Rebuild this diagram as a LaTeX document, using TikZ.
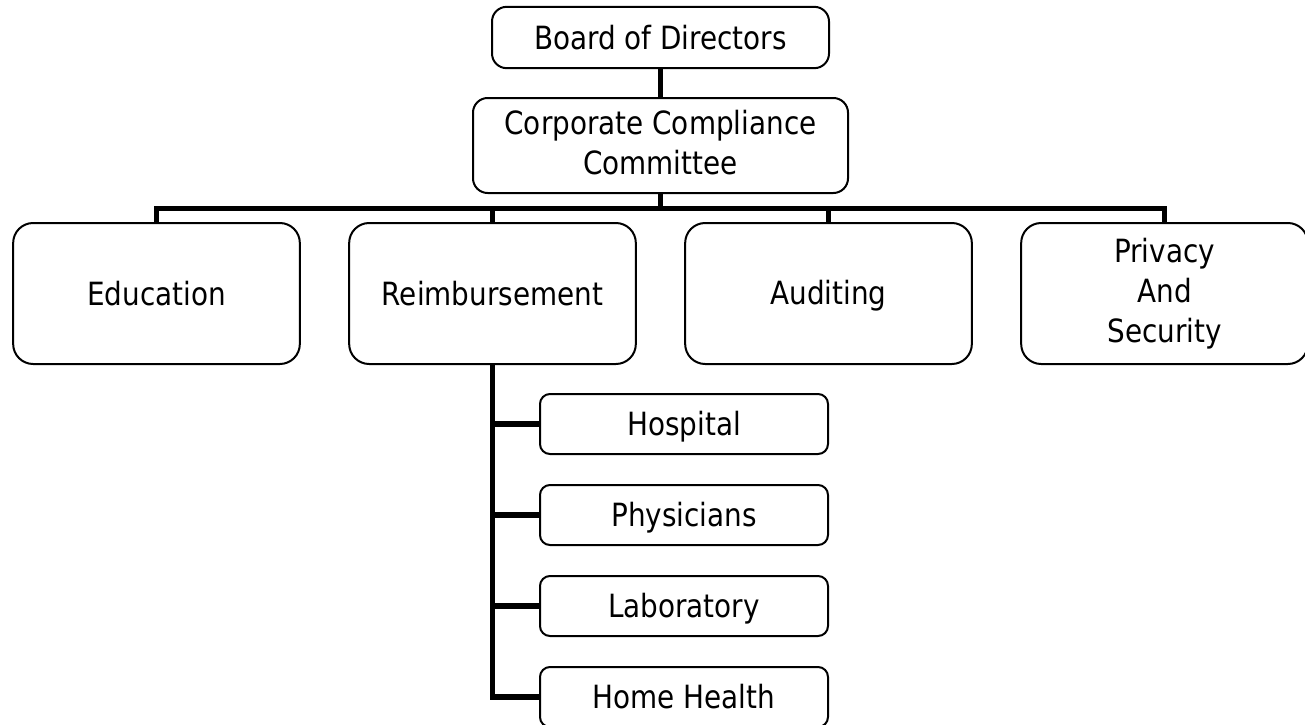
\documentclass[tikz,border=0pt]{standalone}
\usepackage{fontspec}
\setmainfont[FakeStretch=0.87]{DejaVu Sans}
\usepackage{tikz}
\usetikzlibrary{positioning}
\newcommand\boxstrut{\rule[-4.5pt]{0pt}{26.5pt}}

\begin{document}
\begin{tikzpicture}[
  x=0.75pt,y=-0.75pt,
  font=\fontsize{24}{30}\selectfont,
  box/.style={draw,line width=1.5pt,rounded corners=11pt,align=center,inner sep=2pt,minimum width=215pt,
    execute at begin node=\boxstrut,execute at end node=\boxstrut},
  head/.style={box,minimum height=46pt},
  dept/.style={box,rounded corners=15pt,minimum height=105.75pt},
  sub/.style={box,rounded corners=7.5pt,minimum width=216pt,minimum height=45pt},
  conn/.style={line width=4.4pt,line join=miter}]
\useasboundingbox (0,0) rectangle (1305,724);
\node[head,minimum width=252.75pt] (board) at (660.5,37.5) {Board of Directors};
\node[head,minimum width=281.25pt,minimum height=71.25pt] (ccc) at (660.5,145.5) {Corporate Compliance\\Committee};
% departments
\node[dept] (edu) at (156.5,293.5) {Education};
\node[dept,right=35.5pt of edu] (reim) {Reimbursement};
\node[dept,right=35.5pt of reim] (audit) {Auditing};
\node[dept,right=35.5pt of audit] (priv) {Privacy\\And\\Security};
% reimbursement areas
\node[sub] (hosp) at (684,424) {Hospital};
\node[sub,below=21.75pt of hosp] (phys) {Physicians};
\node[sub,below=21.75pt of phys] (lab) {Laboratory};
\node[sub,below=21.75pt of lab] (home) {Home Health};
\coordinate (bus) at (660.5,208.5);
\draw[conn] (board) -- (ccc);
\draw[conn] (ccc) -- (bus);
\foreach \d in {edu,reim,audit,priv} \draw[conn] (\d.north) |- (bus);
\foreach \s in {hosp,phys,lab,home} \draw[conn] (reim.south) |- (\s.west);
\end{tikzpicture}
\end{document}
